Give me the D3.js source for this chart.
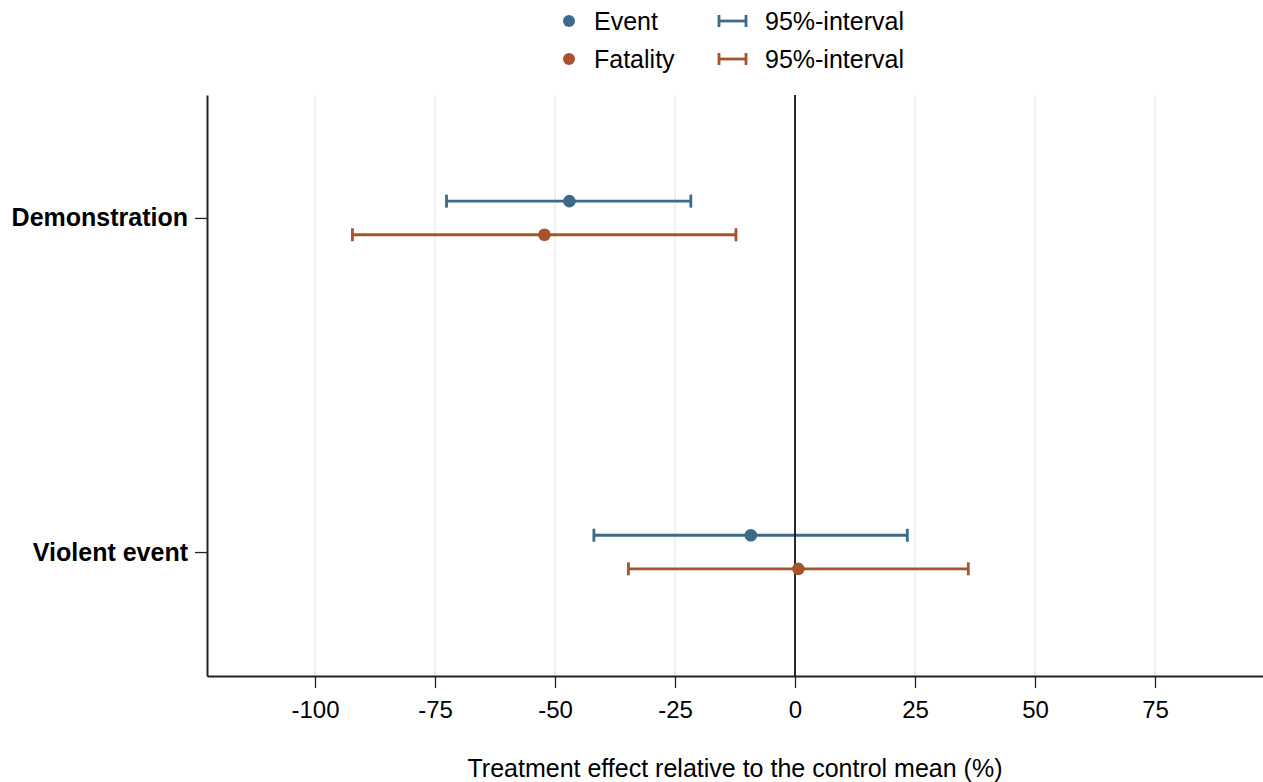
<!DOCTYPE html>
<html>
<head>
<meta charset="utf-8">
<script src="https://cdn.jsdelivr.net/npm/d3@7"></script>
<style>
  body { margin: 0; background: #fff; }
  svg { display: block; font-family: "Liberation Sans", Arial, sans-serif; }
</style>
</head>
<body>
<div id="chart"></div>
<script>
// categories and estimates (percent of control mean)
const categories = ["Demonstration", "Violent event"];
const seriesNames = ["Event", "Fatality"];
const eventPoint = [-47.0, -9.2];
const eventLower = [-72.6, -41.9];
const eventUpper = [-21.7, 23.4];
const fatalityPoint = [-52.2, 0.7];
const fatalityLower = [-92.2, -34.7];
const fatalityUpper = [-12.3, 36.1];
const xTicks = [-100, -75, -50, -25, 0, 25, 50, 75];

const colors = { Event: "#3e6a89", Fatality: "#a8532c" };

const width = 1263, height = 782;
const margin = { top: 95, right: 0, bottom: 106, left: 207 };

const svg = d3.select("#chart").append("svg")
  .attr("width", width)
  .attr("height", height);

const x = d3.scaleLinear()
  .domain([-122.5, 97.5])
  .range([margin.left, width - margin.right]);

// category index 1..n on a linear scale
const y = d3.scaleLinear()
  .domain([0.632, 2.371])
  .range([margin.top, height - margin.bottom]);

const offsets = { Event: -16.8, Fatality: 16.8 };

const rows = [];
categories.forEach((c, i) => {
  rows.push({ cat: c, idx: i + 1, series: "Event", p: eventPoint[i], lo: eventLower[i], hi: eventUpper[i] });
  rows.push({ cat: c, idx: i + 1, series: "Fatality", p: fatalityPoint[i], lo: fatalityLower[i], hi: fatalityUpper[i] });
});

// vertical gridlines
svg.append("g")
  .selectAll("line")
  .data(xTicks.filter(d => d !== 0))
  .enter().append("line")
  .attr("x1", d => x(d)).attr("x2", d => x(d))
  .attr("y1", margin.top).attr("y2", height - margin.bottom)
  .attr("stroke", "#e3e3e3")
  .attr("stroke-width", 1);

// x axis (plain hyphen for negatives, like the original)
const xAxis = svg.append("g")
  .attr("transform", `translate(0,${height - margin.bottom})`)
  .call(d3.axisBottom(x).tickValues(xTicks).tickFormat(d => String(d))
    .tickSize(12).tickSizeOuter(0).tickPadding(13));
xAxis.select(".domain").attr("stroke", "#222").attr("stroke-width", 2);
xAxis.selectAll(".tick line").attr("stroke", "#222").attr("stroke-width", 1.3);
xAxis.selectAll("text").style("font-size", "24px").attr("fill", "#000");

// y axis
const yAxis = svg.append("g")
  .attr("transform", `translate(${margin.left},0)`)
  .call(d3.axisLeft(y).tickValues([1, 2]).tickFormat(d => categories[d - 1]).tickSize(12).tickSizeOuter(0).tickPadding(7));
yAxis.select(".domain").attr("stroke", "#222").attr("stroke-width", 2);
yAxis.selectAll(".tick line").attr("stroke", "#222").attr("stroke-width", 1.3);
yAxis.selectAll("text").style("font-size", "25px").style("font-weight", "bold").attr("fill", "#000");

// x axis title
svg.append("text")
  .attr("x", 735)
  .attr("y", 777)
  .attr("text-anchor", "middle")
  .style("font-size", "25px")
  .text("Treatment effect relative to the control mean (%)");

// intervals
const bars = svg.append("g").selectAll("g")
  .data(rows)
  .enter().append("g")
  .attr("stroke", d => colors[d.series])
  .attr("stroke-width", 2.8);

bars.append("line")
  .attr("x1", d => x(d.lo)).attr("x2", d => x(d.hi))
  .attr("y1", d => y(d.idx) + offsets[d.series])
  .attr("y2", d => y(d.idx) + offsets[d.series]);
bars.append("line")
  .attr("x1", d => x(d.lo)).attr("x2", d => x(d.lo))
  .attr("y1", d => y(d.idx) + offsets[d.series] - 6.5)
  .attr("y2", d => y(d.idx) + offsets[d.series] + 6.5);
bars.append("line")
  .attr("x1", d => x(d.hi)).attr("x2", d => x(d.hi))
  .attr("y1", d => y(d.idx) + offsets[d.series] - 6.5)
  .attr("y2", d => y(d.idx) + offsets[d.series] + 6.5);

// zero reference line
svg.append("line")
  .attr("x1", x(0)).attr("x2", x(0))
  .attr("y1", margin.top).attr("y2", height - margin.bottom)
  .attr("stroke", "#111")
  .attr("stroke-width", 1.8);

// point estimates
svg.append("g").selectAll("circle")
  .data(rows)
  .enter().append("circle")
  .attr("cx", d => x(d.p))
  .attr("cy", d => y(d.idx) + offsets[d.series])
  .attr("r", 6.3)
  .attr("fill", d => colors[d.series]);

// legend
const legend = svg.append("g");
seriesNames.forEach((s, i) => {
  const ly = 21 + i * 38;
  legend.append("circle")
    .attr("cx", 569).attr("cy", ly).attr("r", 6)
    .attr("fill", colors[s]);
  legend.append("text")
    .attr("x", 594).attr("y", ly + 9)
    .style("font-size", "25px")
    .text(s);
  const g = legend.append("g").attr("stroke", colors[s]).attr("stroke-width", 2.8);
  g.append("line").attr("x1", 719).attr("x2", 746).attr("y1", ly).attr("y2", ly);
  g.append("line").attr("x1", 719).attr("x2", 719).attr("y1", ly - 6).attr("y2", ly + 6);
  g.append("line").attr("x1", 746).attr("x2", 746).attr("y1", ly - 6).attr("y2", ly + 6);
  legend.append("text")
    .attr("x", 765).attr("y", ly + 9)
    .style("font-size", "25px")
    .text("95%-interval");
});
</script>
</body>
</html>
